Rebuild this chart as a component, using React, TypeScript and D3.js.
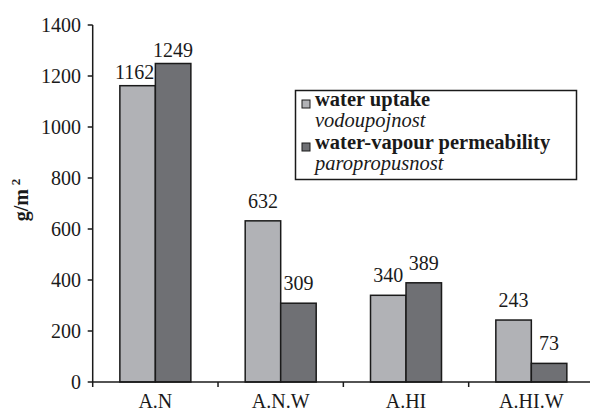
import React from "react";
import * as d3 from "d3";

const categories = ["A.N", "A.N.W", "A.HI", "A.HI.W"];
const waterUptake = [1162, 632, 340, 243];
const vapourPermeability = [1249, 309, 389, 73];
const yTicks = [0, 200, 400, 600, 800, 1000, 1200, 1400];
const seriesNames = ["water uptake", "water-vapour permeability"];
const seriesSubNames = ["vodoupojnost", "paropropusnost"];
const seriesColors = ["#b1b2b6", "#6f7074"];

const W = 590;
const H = 413;
const FONT = '"Liberation Serif"';

export default function App() {
  const x0 = 92.7;
  const x1 = 594;
  const x = d3.scaleBand<string>().domain(categories).range([x0, x1]).paddingInner(0).paddingOuter(0);
  const y = d3.scaleLinear().domain([0, 1400]).range([382, 25]);
  const barW = 35.5;
  const series = [waterUptake, vapourPermeability];
  const tStyle = { fontFamily: FONT };

  return (
    <svg
      width={W}
      height={H}
      style={{ position: "absolute", left: 0, top: 0, background: "#fff" }}
    >
      {/* bars */}
      {categories.map((c, i) => {
        const center = (x(c) as number) + x.bandwidth() / 2;
        return series.map((s, k) => {
          const bx = center - barW + k * barW;
          const by = y(s[i]);
          const gap = s[i] > 1000 ? 7 : 13;
          return (
            <g key={c + k}>
              <rect
                x={bx}
                y={by}
                width={barW}
                height={y(0) - by}
                fill={seriesColors[k]}
                stroke="#1a1a1a"
                strokeWidth={1.5}
              />
              <text
                x={bx + barW / 2 - (s[i] > 1000 && k === 0 ? 3 : 0)}
                y={by - gap}
                textAnchor="middle"
                fontSize={20}
                fill="#1a1a1a"
                style={tStyle}
              >
                {s[i]}
              </text>
            </g>
          );
        });
      })}

      {/* y axis */}
      <line x1={x0} x2={x0} y1={y(1400)} y2={y(0)} stroke="#1a1a1a" strokeWidth={1.5} />
      {yTicks.map((t) => (
        <g key={t}>
          <line x1={x0 - 5} x2={x0} y1={y(t)} y2={y(t)} stroke="#1a1a1a" strokeWidth={1.5} />
          <text
            x={81}
            y={y(t)}
            dy="0.33em"
            textAnchor="end"
            fontSize={20}
            fill="#1a1a1a"
            style={tStyle}
          >
            {t}
          </text>
        </g>
      ))}

      {/* x axis */}
      <line x1={x0} x2={x1} y1={y(0)} y2={y(0)} stroke="#1a1a1a" strokeWidth={1.5} />
      {categories.map((c) => (
        <line
          key={"t" + c}
          x1={x(c) as number}
          x2={x(c) as number}
          y1={y(0)}
          y2={y(0) + 5}
          stroke="#1a1a1a"
          strokeWidth={1.5}
        />
      ))}
      {categories.map((c) => (
        <text
          key={"l" + c}
          x={(x(c) as number) + x.bandwidth() / 2}
          y={408}
          textAnchor="middle"
          fontSize={20}
          fill="#1a1a1a"
          style={tStyle}
        >
          {c}
        </text>
      ))}

      {/* y label */}
      <text
        transform="translate(28,200) rotate(-90)"
        textAnchor="middle"
        fontSize={20}
        fontWeight="bold"
        fill="#1a1a1a"
        style={tStyle}
      >
        g/m
        <tspan dx={4} dy={-8} fontSize={13}>
          2
        </tspan>
      </text>

      {/* legend */}
      <rect x={295.5} y={90.5} width={281} height={89} fill="#fff" stroke="#1a1a1a" strokeWidth={1.5} />
      {seriesNames.map((n, k) => {
        const base = 106 + k * 43;
        return (
          <g key={n}>
            <rect
              x={302}
              y={base - 6}
              width={8}
              height={8}
              fill={seriesColors[k]}
              stroke="#1a1a1a"
              strokeWidth={1}
            />
            <text x={315} y={base} fontSize={20.5} fontWeight="bold" fill="#1a1a1a" style={tStyle}>
              {n}
            </text>
            <text x={315} y={base + 21} fontSize={20.5} fontStyle="italic" fill="#1a1a1a" style={tStyle}>
              {seriesSubNames[k]}
            </text>
          </g>
        );
      })}
    </svg>
  );
}
